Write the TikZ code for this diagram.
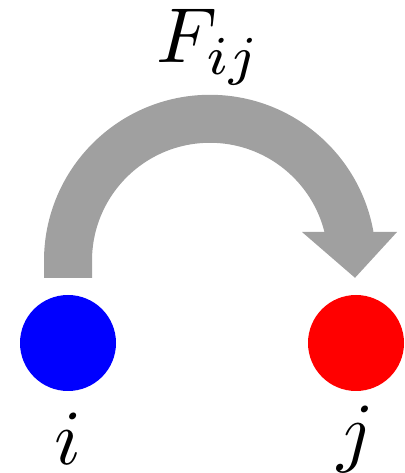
\documentclass[tikz,border=0pt]{standalone}
\usepackage{amsmath}
\usetikzlibrary{calc,positioning}
\definecolor{fluxgray}{RGB}{160,160,160}
\tikzset{
  site/.style={circle,inner sep=0pt,minimum size=96pt},
  lbl/.style={inner sep=0pt,scale=7.8},
  flux/.style={draw=fluxgray,line width=48pt,line cap=butt},
  fluxhead/.style={fill=fluxgray}
}
\begin{document}
\begin{tikzpicture}[x=1pt,y=1pt]
\useasboundingbox (0,0) rectangle (404,473);
% the two sites
\node[site,fill=blue] (si) at (68,130) {};
\node[site,fill=red] (sj) at (356,130) {};
\node[lbl] (li) at (68,34) {$i$};
\node[lbl] (lj) at (356,34) {$j$};
% flux from i to j
\coordinate (tail) at ($(si.north)+(0,17)$);
\coordinate (head) at ($(sj.north)+(-1,17)$);
\draw[flux] (tail) -- ++(0,17) arc[start angle=180,end angle=10,radius=142];
\fill[fluxhead] (302,241) -- (397,241) -- (head) -- cycle;
\node[lbl,anchor=base] (flab) at (209,410) {$F_{ij}$};
\end{tikzpicture}
\end{document}
